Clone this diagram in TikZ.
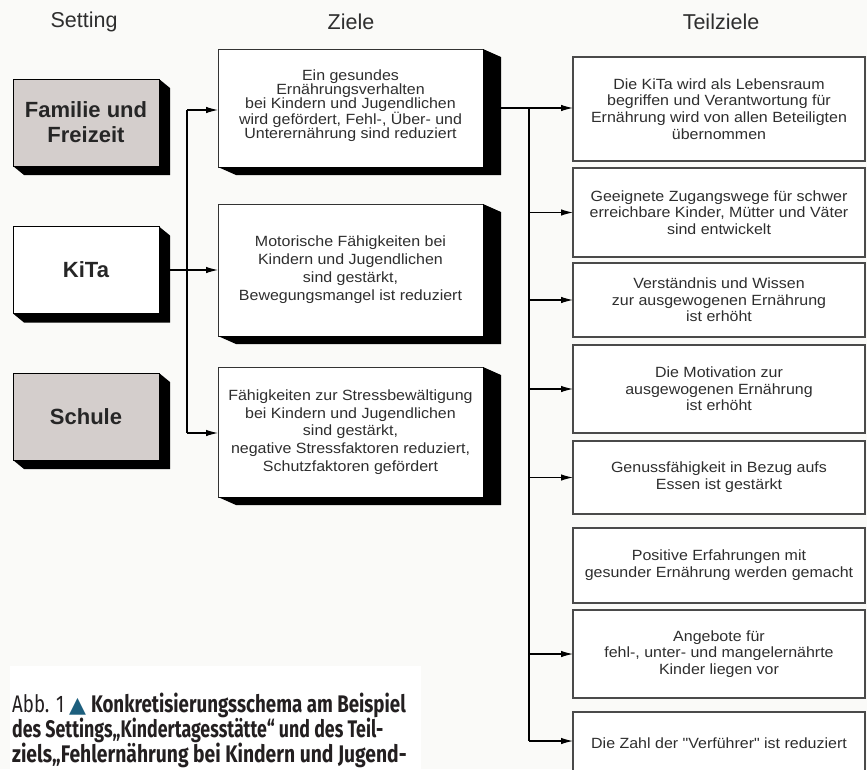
\documentclass[tikz,border=0pt]{standalone}
\usepackage{fontspec}
\setmainfont{Liberation Sans}
\newfontfamily\boxfont[FakeStretch=1.08]{Liberation Sans}
\newfontfamily\capfont[FakeStretch=0.78]{Fira Sans}
\newfontfamily\symfont{DejaVu Sans}
\usetikzlibrary{arrows.meta}
\definecolor{bgc}{HTML}{FAFAF8}
\definecolor{txt}{HTML}{2E2E2E}
\definecolor{setgrey}{HTML}{D4CECC}
\definecolor{tealtri}{HTML}{1D5F7E}
\definecolor{edgec}{HTML}{4A4A4A}
\definecolor{captxt}{HTML}{231F20}
\newcommand\boxshadow[3]{\fill[black] (#1.south west) -- ++(#2,#3) -- ([shift={(#2,#3)}]#1.south east) -- ([shift={(#2,#3)}]#1.north east) -- (#1.north east) -- (#1.south east) -- cycle;}
\begin{document}
\begin{tikzpicture}[x=1pt,y=-1pt,
  title/.style={font=\fontsize{21.5}{24}\selectfont, text=txt, inner sep=0pt},
  setbox/.style={draw=black, line width=1pt, fill=setgrey, minimum width=146pt, minimum height=87pt, inner sep=0pt, outer sep=0pt, align=center, text=black!85, font=\fontsize{22}{25}\selectfont\bfseries},
  zielbox/.style={draw=black!80, line width=1pt, fill=white, minimum width=265pt, inner sep=0pt, outer sep=0pt, align=center, text=txt},
  teilbox/.style={draw=edgec, line width=1.3pt, fill=white, minimum width=292pt, inner sep=0pt, outer sep=0pt, align=center, text=txt, font=\boxfont\fontsize{14.8}{16.7}\selectfont},
  conn/.style={line width=1.1pt, black},
  arr/.style={conn, -{Latex[length=12pt,width=6.5pt]}},
  captext/.style={anchor=base west, inner sep=0pt, text=captxt, font=\capfont\fontsize{24}{25}\selectfont}
]
\useasboundingbox (0,0) rectangle (867,769);
\fill[bgc] (0,0) rectangle (867,769);
\fill[white] (10,666) rectangle (421,769);

% titles
\node[title] (tset) at (84,22) {Setting};
\node[title] (tziel) at (351,22) {Ziele};
\node[title] (tteil) at (721,22) {Teilziele};

% settings
\node[setbox] (FF) at (86,122.5) {Familie und\\Freizeit};
\node[setbox, fill=white] (KiTa) at (86,270) {KiTa};
\node[setbox] (Schule) at (86,416.5) {Schule};
\boxshadow{FF}{11}{9}
\boxshadow{KiTa}{11}{9}
\boxshadow{Schule}{11}{9}

% Ziele
\node[zielbox, minimum height=118pt, font=\boxfont\fontsize{14.8}{14}\selectfont] (Z1) at (350.5,108)
  {Ein gesundes\\Ernährungsverhalten\\bei Kindern und Jugendlichen\\wird gefördert, Fehl-, Über- und\\Unterernährung sind reduziert\\[-10pt]\strut};
\node[zielbox, minimum height=132pt, font=\boxfont\fontsize{14.8}{18}\selectfont] (Z2) at (350.5,270)
  {Motorische Fähigkeiten bei\\Kindern und Jugendlichen\\sind gestärkt,\\Bewegungsmangel ist reduziert};
\node[zielbox, minimum height=130pt, font=\boxfont\fontsize{14.8}{17.8}\selectfont] (Z3) at (350.5,432)
  {Fähigkeiten zur Stressbewältigung\\bei Kindern und Jugendlichen\\sind gestärkt,\\negative Stressfaktoren reduziert,\\Schutzfaktoren gefördert};
\boxshadow{Z1}{18}{8}
\boxshadow{Z2}{18}{8}
\boxshadow{Z3}{18}{8}

% Teilziele
\node[teilbox, minimum height=104pt] (T1) at (719,109) {Die KiTa wird als Lebensraum\\begriffen und Verantwortung für\\Ernährung wird von allen Beteiligten\\übernommen};
\node[teilbox, minimum height=89pt] (T2) at (719,212.5) {Geeignete Zugangswege für schwer\\erreichbare Kinder, Mütter und Väter\\sind entwickelt};
\node[teilbox, minimum height=74pt] (T3) at (719,300) {Verständnis und Wissen\\zur ausgewogenen Ernährung\\ist erhöht};
\node[teilbox, minimum height=88pt] (T4) at (719,389) {Die Motivation zur\\ausgewogenen Ernährung\\ist erhöht};
\node[teilbox, minimum height=73pt] (T5) at (719,477.5) {Genussfähigkeit in Bezug aufs\\Essen ist gestärkt};
\node[teilbox, minimum height=75pt] (T6) at (719,565.5) {Positive Erfahrungen mit\\gesunder Ernährung werden gemacht};
\node[teilbox, minimum height=88pt] (T7) at (719,654) {Angebote für\\fehl-, unter- und mangelernährte\\Kinder liegen vor};
\node[teilbox, minimum height=62pt, anchor=north] (T8) at (719,712) {Die Zahl der "Verführer" ist reduziert};

% connectors setting -> ziele
\coordinate (b1t) at (187,110);
\coordinate (b1b) at (187,433);
\draw[conn] (b1t) -- (b1b);
\draw[arr] (b1t) -- (b1t -| Z1.west);
\draw[arr] ([xshift=11pt]KiTa.east) -- (KiTa.east -| Z2.west);
\draw[arr] (b1b) -- (b1b -| Z3.west);

% connectors ziele -> teilziele
\coordinate (b2t) at (529,108);
\coordinate (b2b) at (529,741);
\draw[conn] (b2t) -- (b2b);
\draw[arr] ([xshift=18pt]Z1.east) -- (Z1.east -| T1.west);
\foreach \t in {T2,T3,T4,T5,T7} { \draw[arr] (b2t |- \t.west) -- (\t.west); }
\draw[arr] (b2b) -- (b2b -| T8.west);

% caption
\node[captext] (cap1) at (12,712) {Abb. 1 {\symfont\fontsize{22}{25}\selectfont\color{tealtri}▲} \bfseries Konkretisierungsschema am Beispiel};
\node[captext] (cap2) at (12,737) {\scalebox{0.95}[1]{\bfseries des Settings„Kindertagesstätte“ und des Teil-}};
\node[captext] (cap3) at (12,762) {\scalebox{1.03}[1]{\bfseries ziels„Fehlernährung bei Kindern und Jugend-}};
\end{tikzpicture}
\end{document}
